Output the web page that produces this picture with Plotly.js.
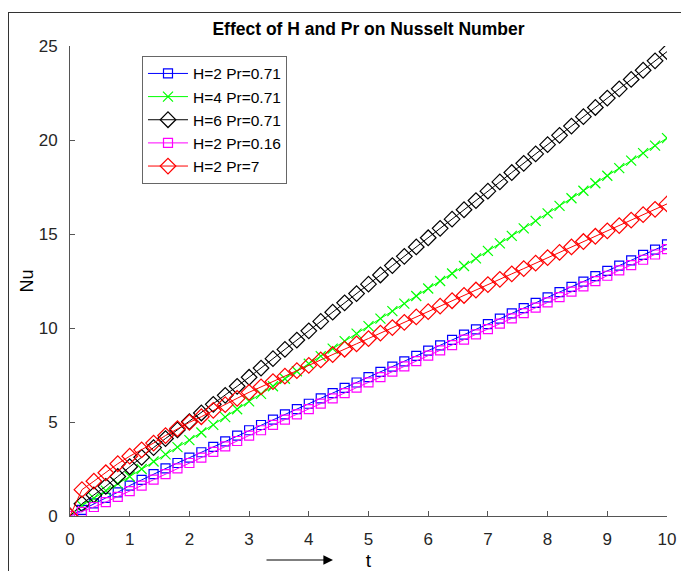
<!DOCTYPE html>
<html>
<head>
<meta charset="utf-8">
<script src="https://cdn.plot.ly/plotly-3.0.1.min.js"></script>
<style>
html,body{margin:0;padding:0;background:#fff;}
#wrap{position:relative;width:681px;height:571px;overflow:hidden;}
#chart{position:absolute;left:0;top:0;width:681px;height:571px;}
#frame{position:absolute;left:8px;top:12px;width:700px;height:600px;border-left:1px solid #333;border-top:1px solid #333;pointer-events:none;}
</style>
</head>
<body>
<div id="wrap"><div id="chart"></div><div id="frame"></div></div>
<script>
const t = [0,0.2,0.4,0.6,0.8,1.0,1.2,1.4,1.6,1.8,2.0,2.2,2.4,2.6,2.8,3.0,3.2,3.4,3.6,3.8,4.0,4.2,4.4,4.6,4.8,5.0,5.2,5.4,5.6,5.8,6.0,6.2,6.4,6.6,6.8,7.0,7.2,7.4,7.6,7.8,8.0,8.2,8.4,8.6,8.8,9.0,9.2,9.4,9.6,9.8,10.0];

const nuH2Pr071 = [0,0.33,0.67,0.96,1.26,1.62,1.92,2.23,2.53,2.82,3.10,3.39,3.68,3.97,4.27,4.56,4.84,5.13,5.41,5.69,5.97,6.26,6.54,6.82,7.10,7.39,7.67,7.95,8.23,8.52,8.80,9.08,9.37,9.65,9.93,10.21,10.50,10.78,11.06,11.34,11.63,11.91,12.19,12.47,12.76,13.04,13.32,13.60,13.89,14.17,14.45];

const nuH4Pr071 = [0,0.55,0.95,1.35,1.72,2.10,2.50,2.90,3.28,3.66,4.04,4.44,4.85,5.26,5.68,6.10,6.50,6.90,7.30,7.70,8.10,8.50,8.90,9.30,9.70,10.10,10.50,10.90,11.30,11.70,12.10,12.50,12.90,13.30,13.70,14.10,14.50,14.90,15.30,15.70,16.10,16.50,16.90,17.30,17.70,18.10,18.50,18.90,19.30,19.70,20.10];

const nuH6Pr071 = [0,0.65,1.12,1.58,2.10,2.62,3.12,3.64,4.12,4.58,5.02,5.48,5.94,6.42,6.90,7.38,7.87,8.37,8.86,9.36,9.85,10.35,10.84,11.34,11.83,12.33,12.82,13.32,13.81,14.31,14.80,15.30,15.79,16.29,16.78,17.28,17.77,18.27,18.76,19.26,19.75,20.25,20.74,21.24,21.73,22.23,22.72,23.22,23.71,24.21,24.70];

const nuH2Pr016 = [0,0.22,0.48,0.74,1.02,1.32,1.62,1.93,2.23,2.53,2.82,3.11,3.41,3.70,3.99,4.28,4.56,4.85,5.13,5.41,5.69,5.98,6.26,6.54,6.83,7.11,7.39,7.68,7.96,8.24,8.53,8.81,9.09,9.38,9.66,9.94,10.23,10.51,10.79,11.08,11.36,11.64,11.93,12.21,12.49,12.78,13.06,13.34,13.63,13.91,14.20];

const nuH2Pr7 = [0,1.40,1.85,2.30,2.78,3.18,3.52,3.88,4.28,4.65,4.98,5.28,5.62,5.92,6.26,6.58,6.87,7.15,7.44,7.73,8.01,8.30,8.59,8.87,9.16,9.44,9.73,10.02,10.30,10.59,10.87,11.16,11.45,11.73,12.02,12.31,12.59,12.88,13.16,13.45,13.74,14.02,14.31,14.60,14.88,15.17,15.45,15.74,16.03,16.31,16.60];

const seriesNames = ['H=2 Pr=0.71','H=4 Pr=0.71','H=6 Pr=0.71','H=2 Pr=0.16','H=2 Pr=7'];
const xTicks = [0,1,2,3,4,5,6,7,8,9,10];
const yTicks = [0,5,10,15,20,25];

function tr(y, name, color, symbol, size){
  return {x:t, y:y, name:name, type:'scatter', mode:'lines+markers',
    line:{color:color, width:1},
    marker:{symbol:symbol, size:size, color:color, line:{color:color, width:1.2}}};
}

const data = [
  tr(nuH2Pr071, seriesNames[0], '#0000ff', 'square-open', 9),
  tr(nuH4Pr071, seriesNames[1], '#00ff00', 'x-thin-open', 10),
  tr(nuH6Pr071, seriesNames[2], '#000000', 'diamond-open', 12),
  tr(nuH2Pr016, seriesNames[3], '#ff00ff', 'square-open', 9),
  tr(nuH2Pr7, seriesNames[4], '#ff0000', 'diamond-open', 12)
];

const axisCommon = {
  showline:true, linecolor:'#555', linewidth:1, mirror:false,
  ticks:'inside', ticklen:5, tickcolor:'#555', tickwidth:1,
  showgrid:false, zeroline:false,
  tickfont:{family:'Arial, Liberation Sans, sans-serif', size:17, color:'#262626'}
};

const layout = {
  width:681, height:571,
  margin:{l:70, r:14, t:46, b:55},
  paper_bgcolor:'#fff', plot_bgcolor:'#fff',
  font:{family:'Arial, Liberation Sans, sans-serif', color:'#000'},
  title:{text:'<b>Effect of H and Pr on Nusselt Number</b>', x:0.5, xref:'paper', y:1-29/571, yref:'container', yanchor:'middle',
    font:{family:'Arial, Liberation Sans, sans-serif', size:17.5, color:'#000'}},
  xaxis:Object.assign({}, axisCommon, {range:[0,10], tickvals:xTicks, ticktext:xTicks.map(String), ticklabelstandoff:8,
    title:{text:'t', font:{size:19, color:'#000'}, standoff:10}}),
  yaxis:Object.assign({}, axisCommon, {range:[0,25], tickvals:yTicks, ticktext:yTicks.map(String), ticklabelstandoff:8,
    title:{text:'Nu', font:{size:18, color:'#000'}, standoff:0}}),
  showlegend:true,
  legend:{x:0.1206, y:0.979, xanchor:'left', yanchor:'top', bgcolor:'#fff', bordercolor:'#666', borderwidth:1,
    itemwidth:40, font:{family:'Arial, Liberation Sans, sans-serif', size:15.5, color:'#000'}, tracegroupgap:0},
  annotations:[{xref:'paper', yref:'paper', x:(333-70)/597, y:(516-560)/470, ax:-68, ay:0, axref:'pixel', ayref:'pixel',
    text:'', showarrow:true, arrowhead:2, arrowsize:1.6, arrowwidth:1.2, arrowcolor:'#000'}]
};

Plotly.newPlot('chart', data, layout, {displayModeBar:false, staticPlot:true});
</script>
</body>
</html>
